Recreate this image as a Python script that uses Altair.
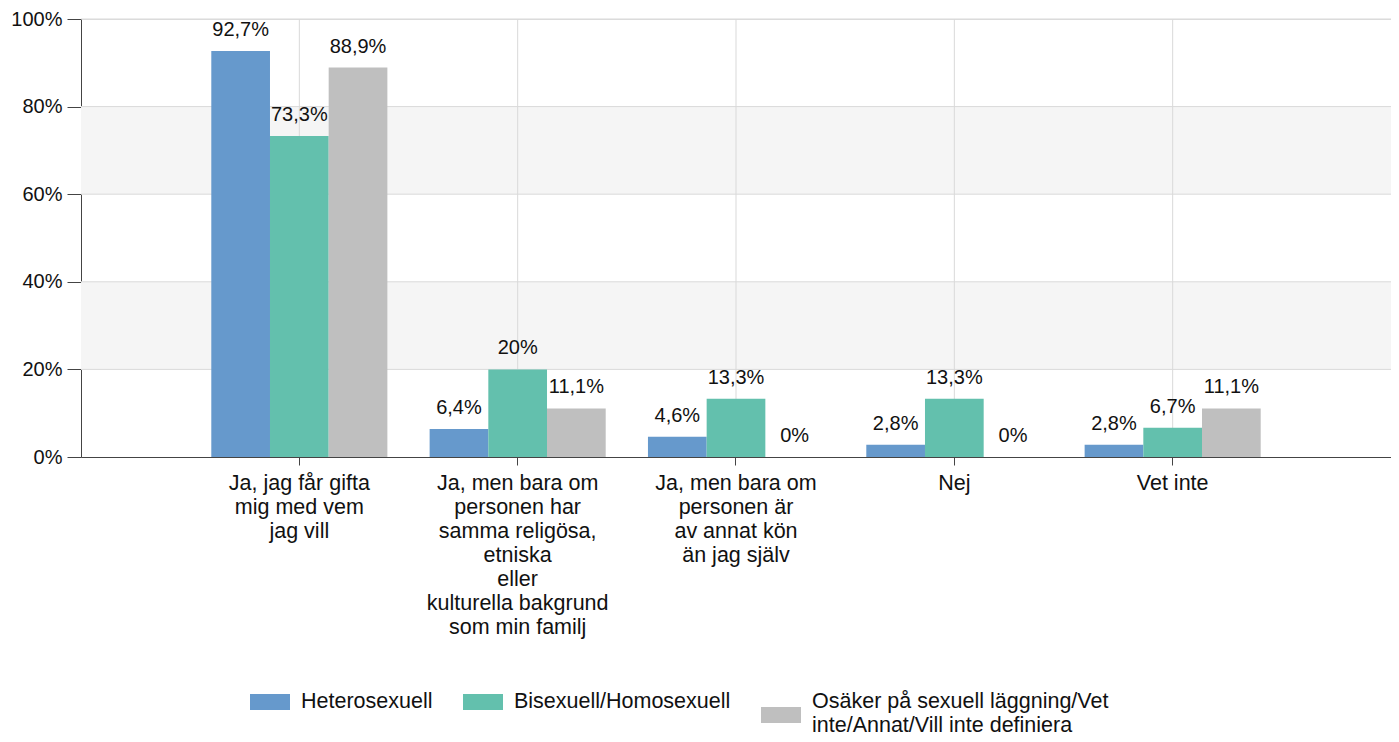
import altair as alt
import pandas as pd

CATEGORIES = [
    "Ja, jag får gifta|mig med vem|jag vill",
    "Ja, men bara om|personen har|samma religösa,|etniska|eller|kulturella bakgrund|som min familj",
    "Ja, men bara om|personen är|av annat kön|än jag själv",
    "Nej",
    "Vet inte",
]
SERIES = [
    "Heterosexuell",
    "Bisexuell/Homosexuell",
    "Osäker på sexuell läggning/Vet inte/Annat/Vill inte definiera",
]
HETERO = [92.7, 6.4, 4.6, 2.8, 2.8]
BIHOMO = [73.3, 20, 13.3, 13.3, 6.7]
OSAKER = [88.9, 11.1, 0, 0, 11.1]
COLORS = ["#6699cc", "#63c0ad", "#bfbfbf"]
Y_TICKS = [0, 20, 40, 60, 80, 100]
BAND_LO = [20, 60]
BAND_HI = [40, 80]

rows = []
for s, vals in zip(SERIES, [HETERO, BIHOMO, OSAKER]):
    for c, v in zip(CATEGORIES, vals):
        rows.append({"cat": c, "series": s, "value": v})
df = pd.DataFrame(rows)

W, H = 1310, 438
FONT = "Liberation Sans"
FS = 20
FS_CAT = 21.5
TXT = "#111111"

x_scale = alt.Scale(domain=CATEGORIES, paddingInner=0, paddingOuter=0.5)
y_scale = alt.Scale(domain=[0, 100], nice=False)

x_axis = alt.Axis(
    title=None, labelAngle=0, labelLimit=0, labelExpr="split(datum.label, '|')",
    labelFont=FONT, labelFontSize=FS_CAT, labelColor=TXT, labelLineHeight=24,
    labelPadding=7, tickSize=8, tickColor="#444444", domainColor="#444444",
    grid=False, labelBaseline="top",
)
y_axis = alt.Axis(
    title=None, values=Y_TICKS, labelExpr="datum.value + '%'",
    labelFont=FONT, labelFontSize=FS, labelColor=TXT, labelPadding=5,
    tickSize=14, tickColor="#444444", domainColor="#444444", grid=False,
)

bands = alt.Chart(pd.DataFrame({"lo": BAND_LO, "hi": BAND_HI})).mark_rect(
    fill="#f5f5f5"
).encode(
    y=alt.Y("lo:Q", scale=y_scale, axis=y_axis),
    y2="hi:Q",
    x=alt.value(0),
    x2=alt.value(W),
)

hgrid = alt.Chart(pd.DataFrame({"v": Y_TICKS[1:]})).mark_rule(
    color="#d9d9d9", strokeWidth=1
).encode(y=alt.Y("v:Q", scale=y_scale, axis=y_axis))

vgrid = alt.Chart(pd.DataFrame({"cat": CATEGORIES})).mark_rule(
    color="#d9d9d9", strokeWidth=1
).encode(x=alt.X("cat:N", scale=x_scale, axis=x_axis, sort=CATEGORIES))

LONG = SERIES[2]
legend = alt.Legend(
    orient="none", legendX=169, legendY=663, direction="horizontal", columns=3,
    title=None,
    symbolType=alt.ExprRef(
        expr=f"datum.value == '{LONG}' ? 'M-1,0.25H1V1.05H-1Z' : 'M-1,-0.4H1V0.4H-1Z'"
    ),
    symbolSize=1600,
    symbolStrokeWidth=0, symbolOpacity=1, labelFont=FONT, labelFontSize=FS_CAT,
    labelColor=TXT, labelOffset=11, columnPadding=30, labelLimit=0,
    padding=0, labelBaseline="middle",
    labelExpr=(
        f"datum.label == '{LONG}'"
        " ? ['Osäker på sexuell läggning/Vet', 'inte/Annat/Vill inte definiera'] : [datum.label, '']"
    ),
)

base = alt.Chart(df).encode(
    x=alt.X("cat:N", scale=x_scale, axis=x_axis, sort=CATEGORIES),
    xOffset=alt.XOffset("series:N", sort=SERIES,
                        scale=alt.Scale(domain=SERIES, paddingInner=0, paddingOuter=0.36)),
    y=alt.Y("value:Q", scale=y_scale, axis=y_axis),
)

bars = base.mark_bar().encode(
    color=alt.Color("series:N", scale=alt.Scale(domain=SERIES, range=COLORS), legend=legend),
)

labels = base.transform_calculate(
    label="replace(format(datum.value, '.1~f'), '.', ',') + '%'"
).mark_text(
    baseline="alphabetic", dy=-15, font=FONT, fontSize=FS, color=TXT
).encode(text="label:N")

chart = alt.layer(bands, hgrid, vgrid, bars, labels).properties(
    width=W, height=H,
    autosize=alt.AutoSizeParams(type="none"),
    padding={"left": 73, "top": 11, "right": 0, "bottom": 277},
).configure_view(stroke=None).configure(font=FONT)

chart.save("out.html", embed_options={"renderer": "svg", "actions": False})
